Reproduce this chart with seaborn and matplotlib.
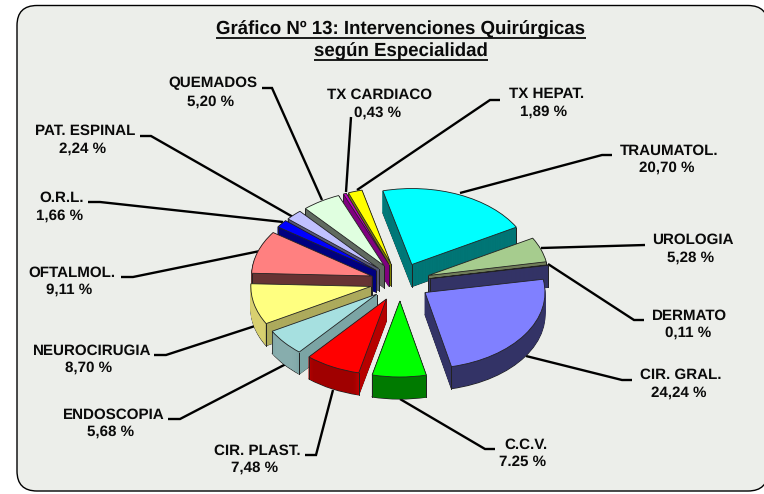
import numpy as np
import matplotlib
matplotlib.use("Agg")
import matplotlib.pyplot as plt
from matplotlib.patches import FancyBboxPatch
import seaborn as sns

names = ["TRAUMATOL.", "UROLOGIA", "DERMATO", "CIR. GRAL.", "C.C.V.", "CIR. PLAST.", "ENDOSCOPIA",
         "NEUROCIRUGIA", "OFTALMOL.", "O.R.L.", "PAT. ESPINAL", "QUEMADOS", "TX CARDIACO", "TX HEPAT."]
values = [20.70, 5.28, 0.11, 24.24, 7.25, 7.48, 5.68, 8.70, 9.11, 1.66, 2.24, 5.20, 0.43, 1.89]
value_text = ["20,70 %", "5,28 %", "0,11 %", "24,24 %", "7.25 %", "7,48 %", "5,68 %",
              "8,70 %", "9,11 %", "1,66 %", "2,24 %", "5,20 %", "0,43 %", "1,89 %"]
top_colors = ["#00FFFF", "#A6CC8E", "#55557F", "#8080FF", "#00FF00", "#FF0000", "#A6E0E0",
              "#FFFF80", "#FF8080", "#0000FF", "#C0C0FF", "#E0FFE0", "#C000C0", "#FFFF00"]
rim_colors = ["#009090", "#8AA870", "#333366", "#333366", "#007A00", "#A00000", "#88AEAE",
              "#D8D070", "#663333", "#000080", "#606080", "#606A60", "#800080", "#808000"]
wall_colors = ["#006A6A", "#666A50", "#333366", "#333366", "#008000", "#D00000", "#78A4A4",
               "#999955", "#663333", "#000080", "#555577", "#606A60", "#800080", "#808000"]

# label anchors (pixels): name centre, value centre
name_pos = [(669, 151), (693, 240), (690, 316), (681, 375), (526, 445), (257, 451), (114, 415),
            (92, 351), (72, 273), (62, 198), (85, 131), (213, 83), (380, 95), (547, 94)]
value_pos = [(667, 168), (691, 258), (688, 333), (679, 393), (523, 462), (255, 468), (111, 432),
             (89, 368), (69, 290), (60, 216), (83, 149), (211, 102), (378, 113), (544, 112)]
leaders = [[(612, 155), (602, 155), (460, 193)],
           [(645, 245), (541, 248)],
           [(644, 320), (634, 320), (548, 264)],
           [(632, 380), (622, 380), (526, 356)],
           [(495, 449), (485, 449), (400, 399)],
           [(305, 455), (316, 455), (333, 390)],
           [(168, 419), (180, 419), (286, 364)],
           [(154, 355), (166, 355), (255, 326)],
           [(121, 277), (133, 277), (260, 251)],
           [(88, 202), (100, 202), (283, 222)],
           [(140, 136), (151, 136), (293, 217)],
           [(262, 88), (272, 88), (322, 200)],
           [(351, 117), (346, 192)],
           [(500, 100), (490, 100), (357, 190)]]

W, H = 764, 494
CX, CY, RX, RY = 400, 282, 120, 76
DEPTH_PX = 22
LAYERS = 44
START = 104
EXPLODE = 0.25

sns.set_theme(style="white")
plt.rcParams["font.family"] = ["Liberation Sans", "DejaVu Sans"]
plt.rcParams["text.hinting"] = "none"
top_pal = sns.color_palette(top_colors)
rim_pal = sns.color_palette(rim_colors)
wall_pal = sns.color_palette(wall_colors)

fig = plt.figure(figsize=(W / 100, H / 100), dpi=100, facecolor="white")

# pixel-space axes for frame, leaders
bg = fig.add_axes([0, 0, 1, 1])
bg.set_xlim(0, W)
bg.set_ylim(H, 0)
bg.axis("off")
bg.add_patch(FancyBboxPatch((17 + 20, 5.5 + 20), 768 - 17 - 40, 491 - 5.5 - 40,
                            boxstyle="round,pad=20,rounding_size=20",
                            facecolor="#ECEEEA", edgecolor="black", lw=1.0, clip_on=False))
for pts in leaders:
    xs, ys = zip(*pts)
    bg.plot(xs, ys, color="black", lw=1.7, solid_capstyle="butt", solid_joinstyle="miter")

# pie axes: one unit = pie radius, squashed into an ellipse
ax = fig.add_axes([0, 0, 1, 1], facecolor="none")
edge = "#222222"
frac = np.array(values) / np.sum(values)
ends = START - 360 * np.cumsum(frac)
starts = ends + 360 * frac
mids = np.radians((starts + ends) / 2)
tips = np.c_[EXPLODE * np.cos(mids), EXPLODE * np.sin(mids)]
a = tips + np.c_[np.cos(np.radians(starts)), np.sin(np.radians(starts))]
b = tips + np.c_[np.cos(np.radians(ends)), np.sin(np.radians(ends))]
depth = DEPTH_PX / RY

for k in range(LAYERS, 0, -1):
    dy = -depth * k / LAYERS
    is_bottom = k == LAYERS
    wedges, _ = ax.pie(values, startangle=START, counterclock=False, explode=[EXPLODE] * len(values),
                       center=(0, dy), radius=1, colors=rim_pal,
                       wedgeprops=dict(linewidth=0.8 if is_bottom else 0.4))
    for w, c in zip(wedges, rim_pal):
        w.set_edgecolor(edge if is_bottom else c)
    for i, c in enumerate(wall_pal):
        ax.fill([tips[i, 0], a[i, 0], b[i, 0]], [tips[i, 1] + dy, a[i, 1] + dy, b[i, 1] + dy],
                color=c, lw=0.3)
    ax.plot(np.r_[tips[:, 0], a[:, 0], b[:, 0]], np.r_[tips[:, 1], a[:, 1], b[:, 1]] + dy,
            ls="none", marker="o", ms=0.7, mew=0, color=edge, zorder=1)

ax.pie(values, startangle=START, counterclock=False, explode=[EXPLODE] * len(values),
       center=(0, 0), radius=1, colors=top_pal, wedgeprops=dict(edgecolor=edge, linewidth=0.6))
ax.set_aspect("auto")
ax.set_xlim(-CX / RX, (W - CX) / RX)
ax.set_ylim((CY - H) / RY, CY / RY)
ax.axis("off")

# text overlay in pixel space
fg = fig.add_axes([0, 0, 1, 1], facecolor="none")
fg.set_xlim(0, W)
fg.set_ylim(H, 0)
fg.axis("off")
for n, v, (nx, ny), (vx, vy) in zip(names, value_text, name_pos, value_pos):
    fg.text(nx, ny, n, ha="center", va="center", fontsize=10.9, fontweight="bold", color="#0a0a0a")
    fg.text(vx, vy, v, ha="center", va="center", fontsize=10.9, fontweight="bold", color="#0a0a0a")

title_lines = ["Gráfico Nº 13: Intervenciones Quirúrgicas", "según Especialidad"]
title_y = [29, 51]
under_y = [38.5, 60]
fig.canvas.draw()
rend = fig.canvas.get_renderer()
for s, y, uy in zip(title_lines, title_y, under_y):
    t = fg.text(401, y, s, ha="center", va="center", fontsize=13.4, fontweight="bold", color="#0a0a0a")
    bb = t.get_window_extent(rend)
    fg.plot([bb.x0, bb.x1], [uy, uy], color="#0a0a0a", lw=1.3, solid_capstyle="butt")

fig.savefig("out.png", dpi=100, facecolor="white")
